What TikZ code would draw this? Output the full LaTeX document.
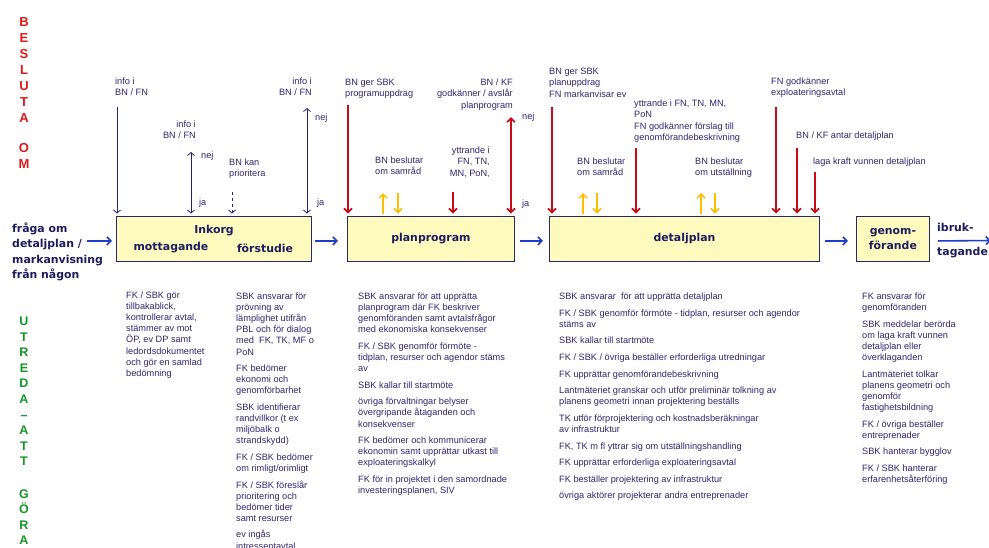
\documentclass[tikz,border=0pt]{standalone}
\usepackage{fontspec}
\setmainfont{Liberation Sans}
\newfontfamily\dvs{DejaVu Sans}
\usetikzlibrary{arrows.meta}
\definecolor{txtc}{RGB}{48,38,110}
\definecolor{navyc}{RGB}{35,35,110}
\definecolor{redc}{RGB}{200,10,20}
\definecolor{yelc}{RGB}{255,190,0}
\definecolor{bluec}{RGB}{30,60,200}
\definecolor{boxfill}{RGB}{255,250,190}
\definecolor{boxdraw}{RGB}{40,40,100}
\definecolor{beslc}{RGB}{225,25,25}
\definecolor{utrc}{RGB}{20,150,40}
\definecolor{boldc}{RGB}{28,28,95}
\newcommand{\tabL}[1]{\begin{tabular}[t]{@{}l@{}}#1\end{tabular}}
\newcommand{\tabR}[1]{\begin{tabular}[t]{@{}r@{}}#1\end{tabular}}
\newcommand{\tabC}[1]{\begin{tabular}[t]{@{}c@{}}#1\end{tabular}}
\begin{document}
\begin{tikzpicture}[x=1pt,y=-1pt,
  stagebox/.style={draw=boxdraw, fill=boxfill, line width=0.9pt, inner sep=0pt, minimum height=45pt, anchor=north west, font=\dvs\bfseries\fontsize{10.9}{15}\selectfont, text=boldc, align=center},
  lab/.style={font=\fontsize{9.2}{11.3}\selectfont, text=txtc, inner sep=0pt, anchor=base west},
  labr/.style={lab, anchor=base east},
  para/.style={font=\fontsize{9.2}{11.1}\selectfont, text=txtc, inner sep=0pt, anchor=base west},
  big/.style={font=\dvs\bfseries\fontsize{10.9}{15.5}\selectfont, text=boldc, inner sep=0pt},
  navarr/.style={draw=navyc, line width=0.8pt, -{Straight Barb[length=3pt,width=7pt]}, shorten >=2.5pt},
  navdbl/.style={draw=navyc, line width=0.8pt, {Straight Barb[length=3pt,width=7pt]}-{Straight Barb[length=3pt,width=7pt]}, shorten >=2.5pt},
  redarr/.style={draw=redc, line width=1.6pt, -{Straight Barb[length=4pt,width=8pt]}, shorten >=2.5pt},
  reddbl/.style={draw=redc, line width=1.6pt, {Straight Barb[length=4pt,width=8pt]}-{Straight Barb[length=4pt,width=8pt]}, shorten >=2.5pt},
  yelarr/.style={draw=yelc, line width=1.5pt, -{Straight Barb[length=4pt,width=8pt]}},
  bluarr/.style={draw=bluec, line width=1.6pt, -{Straight Barb[length=4pt,width=8pt]}}
]
\useasboundingbox (0,0) rectangle (989,547);
\fill[white] (0,0) rectangle (989,547);

% side letters
\node[font=\bfseries\fontsize{13}{16}\selectfont, text=beslc, inner sep=0pt, anchor=base] (besl) at (24,26) {\tabC{B\\E\\S\\L\\U\\T\\A\\[14pt]O\\M}};
\node[font=\bfseries\fontsize{12.5}{15.6}\selectfont, text=utrc, inner sep=0pt, anchor=base] (utr) at (24,325.5) {\tabC{U\\T\\R\\E\\D\\A\\–\\A\\T\\T\\[16.5pt]G\\Ö\\R\\A}};

% stage boxes
\node[stagebox, minimum width=195pt] (ink) at (116,216) {};
\node[big] (inkt) at (214,231) {Inkorg};
\node[big] (inkm) at (171,248) {mottagande};
\node[big] (inkf) at (265,248) {förstudie};
\node[stagebox, minimum width=167pt] (pp) at (347,216) {planprogram};
\node[stagebox, minimum width=270pt] (dp) at (549,216) {detaljplan};
\node[stagebox, minimum width=73pt] (gf) at (856,216) {genom-\\förande};

% left / right texts
\node[big, anchor=base west] (fraga) at (12,232) {\tabL{fråga om\\detaljplan /\\markanvisning\\från någon}};
\node[big, anchor=base west] (ibr1) at (937,231) {ibruk-};
\node[big, anchor=base west] (ibr2) at (937,255) {tagande};

% horizontal flow
\draw[bluarr] ([xshift=-29pt,yshift=-2pt]ink.west) -- ([xshift=-4pt,yshift=-2pt]ink.west);
\draw[bluarr] ([xshift=3pt,yshift=-2pt]ink.east) -- ([xshift=-9pt,yshift=-2pt]pp.west);
\draw[bluarr] ([xshift=5pt,yshift=-2pt]pp.east) -- ([xshift=-6pt,yshift=-2pt]dp.west);
\draw[bluarr] ([xshift=5pt,yshift=-2pt]dp.east) -- ([xshift=-8pt,yshift=-2pt]gf.west);
\coordinate (endr) at (991,240.5);
\draw[bluarr] ([xshift=8pt,yshift=-2pt]gf.east) -- (endr);

% coordinates of arrow tails
\coordinate (n1) at (117,107);
\coordinate (n2) at (191,152);
\coordinate (n3) at (232,192);
\coordinate (n4) at (307,108);
\coordinate (r1) at (348,105);
\coordinate (r2) at (453,192);
\coordinate (r3) at (511,117);
\coordinate (r4) at (552,107);
\coordinate (r5) at (636,148);
\coordinate (r6) at (776,107);
\coordinate (r7) at (797,148);
\coordinate (r8) at (815,172);
\coordinate (y1) at (383,193);
\coordinate (y2) at (398,193);
\coordinate (y3) at (583,193);
\coordinate (y4) at (597,193);
\coordinate (y5) at (701,193);
\coordinate (y6) at (715,193);

% navy arrows (Inkorg)
\draw[navarr] (n1) -- (n1 |- ink.north);
\draw[navdbl] (n2) -- (n2 |- ink.north);
\draw[navarr, dashed] (n3) -- (n3 |- ink.north);
\draw[navdbl] (n4) -- (n4 |- ink.north);

% red arrows
\draw[redarr] (r1) -- (r1 |- pp.north);
\draw[redarr] (r2) -- (r2 |- pp.north);
\draw[reddbl] (r3) -- (r3 |- pp.north);
\draw[redarr] (r4) -- (r4 |- dp.north);
\draw[redarr] (r5) -- (r5 |- dp.north);
\draw[redarr] (r6) -- (r6 |- dp.north);
\draw[redarr] (r7) -- (r7 |- dp.north);
\draw[redarr] (r8) -- (r8 |- dp.north);

% yellow arrows
\draw[yelarr, shorten <=2.5pt] (y1 |- pp.north) -- (y1);
\draw[yelarr, shorten >=2.5pt] (y2) -- (y2 |- pp.north);
\draw[yelarr, shorten <=2.5pt] (y3 |- dp.north) -- (y3);
\draw[yelarr, shorten >=2.5pt] (y4) -- (y4 |- dp.north);
\draw[yelarr, shorten <=2.5pt] (y5 |- dp.north) -- (y5);
\draw[yelarr, shorten >=2.5pt] (y6) -- (y6 |- dp.north);

% top labels
\node[lab] (l1) at (115,84.5) {\tabL{info i\\BN / FN}};
\node[labr] (l2) at (196,127.5) {\tabR{info i\\BN / FN}};
\node[lab] (nej1) at (201,158) {nej};
\node[lab] (ja1) at (199,205) {ja};
\node[lab] (l3) at (229,165) {\tabL{BN kan\\prioritera}};
\node[labr] (l4) at (312,84.5) {\tabR{info i\\BN / FN}};
\node[lab] (nej2) at (315,120) {nej};
\node[lab] (ja2) at (317,205) {ja};
\node[lab] (l5) at (345,85.5) {\tabL{BN ger SBK\\programuppdrag}};
\node[lab] (l6) at (375,163.5) {\tabL{BN beslutar\\om samråd}};
\node[labr] (l7) at (490,153.5) {\tabR{yttrande i\\FN, TN,\\MN, PoN,}};
\node[labr] (l8) at (513,85.5) {\tabR{BN / KF\\godkänner / avslår\\planprogram}};
\node[lab] (nej3) at (522,119.5) {nej};
\node[lab] (ja3) at (522,206.5) {ja};
\node[lab] (l9) at (549,74.5) {\tabL{BN ger SBK\\planuppdrag\\FN markanvisar ev}};
\node[lab] (l10) at (577,164.5) {\tabL{BN beslutar\\om samråd}};
\node[lab] (l11) at (634,106.5) {\tabL{yttrande i FN, TN, MN,\\PoN\\FN godkänner förslag till\\genomförandebeskrivning}};
\node[lab] (l12) at (695,164.5) {\tabL{BN beslutar\\om utställning}};
\node[lab] (l13) at (771,84.5) {\tabL{FN godkänner\\exploateringsavtal}};
\node[lab] (l14) at (796,138.5) {BN / KF antar detaljplan};
\node[lab] (l15) at (813,164.5) {laga kraft vunnen detaljplan};

% bottom text blocks
\node[para] (b1) at (126,298.5) {\tabL{FK / SBK gör\\tillbakablick,\\kontrollerar avtal,\\stämmer av mot\\ÖP, ev DP samt\\ledordsdokumentet\\och gör en samlad\\bedömning}};
\node[para] (b2) at (236,299.5) {\tabL{SBK ansvarar för\\prövning av\\lämplighet utifrån\\PBL och för dialog\\med~ FK, TK, MF o\\PoN\\[5.5pt]FK bedömer\\ekonomi och\\genomförbarhet\\[5.5pt]SBK identifierar\\randvillkor (t ex\\miljöbalk o\\strandskydd)\\[5.5pt]FK / SBK bedömer\\om rimligt/orimligt\\[5.5pt]FK / SBK föreslår\\prioritering och\\bedömer tider\\samt resurser\\[5.5pt]ev ingås\\intressentavtal}};
\node[para] (b3) at (358,299.5) {\tabL{SBK ansvarar för att upprätta\\planprogram där FK beskriver\\genomföranden samt avtalsfrågor\\med ekonomiska konsekvenser\\[5.5pt]FK / SBK genomför förmöte -\\tidplan, resurser och agendor stäms\\av\\[5.5pt]SBK kallar till startmöte\\[5.5pt]övriga förvaltningar belyser\\övergripande åtaganden och\\konsekvenser\\[5.5pt]FK bedömer och kommunicerar\\ekonomin samt upprättar utkast till\\exploateringskalkyl\\[5.5pt]FK för in projektet i den samordnade\\investeringsplanen, SIV}};
\node[para] (b4) at (559,299.5) {\tabL{SBK ansvarar~ för att upprätta detaljplan\\[5.5pt]FK / SBK genomför förmöte - tidplan, resurser och agendor\\stäms av\\[5.5pt]SBK kallar till startmöte\\[5.5pt]FK / SBK / övriga beställer erforderliga utredningar\\[5.5pt]FK upprättar genomförandebeskrivning\\[5.5pt]Lantmäteriet granskar och utför preliminär tolkning av\\planens geometri innan projektering beställs\\[5.5pt]TK utför förprojektering och kostnadsberäkningar\\av infrastruktur\\[5.5pt]FK, TK m fl yttrar sig om utställningshandling\\[5.5pt]FK upprättar erforderliga exploateringsavtal\\[5.5pt]FK beställer projektering av infrastruktur\\[5.5pt]övriga aktörer projekterar andra entreprenader}};
\node[para] (b5) at (862,299.5) {\tabL{FK ansvarar för\\genomföranden\\[5.5pt]SBK meddelar berörda\\om laga kraft vunnen\\detaljplan eller\\överklaganden\\[5.5pt]Lantmäteriet tolkar\\planens geometri och\\genomför\\fastighetsbildning\\[5.5pt]FK / övriga beställer\\entreprenader\\[5.5pt]SBK hanterar bygglov\\[5.5pt]FK / SBK hanterar\\erfarenhetsåterföring}};
\end{tikzpicture}
\end{document}
